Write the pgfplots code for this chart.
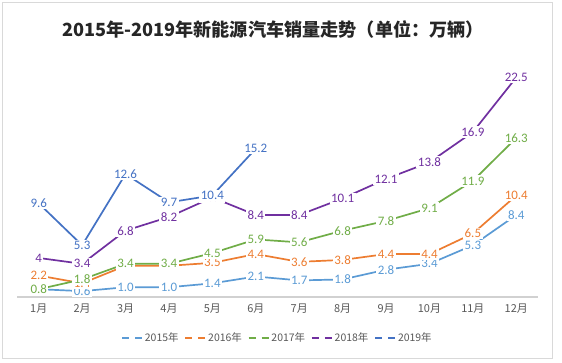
\documentclass[border=0pt]{standalone}
\usepackage{fontspec}
\setmainfont{Carlito}
\newfontfamily\cjk{Noto Sans CJK SC}
\usepackage{pgfplots}
\pgfplotsset{compat=1.18}
\definecolor{c15}{HTML}{5B9BD5}
\definecolor{c16}{HTML}{ED7D31}
\definecolor{c17}{HTML}{70AD47}
\definecolor{c18}{HTML}{7030A0}
\definecolor{c19}{HTML}{4472C4}
\definecolor{txt}{HTML}{595959}
\pgfplotstableread{
x y lab
1 0.8 0.8
2 0.6 0.6
3 1.0 1.0
4 1.0 1.0
5 1.4 1.4
6 2.1 2.1
7 1.7 1.7
8 1.8 1.8
9 2.8 2.8
10 3.4 3.4
11 5.3 5.3
12 8.4 8.4
}\dA
\pgfplotstableread{
x y lab
1 2.2 2.2
2 1.4 1.4
3 3.2 3.2
4 3.2 3.2
5 3.5 3.5
6 4.4 4.4
7 3.6 3.6
8 3.8 3.8
9 4.4 4.4
10 4.4 4.4
11 6.5 6.5
12 10.4 10.4
}\dB
\pgfplotstableread{
x y lab
1 0.8 0.8
2 1.8 1.8
3 3.4 3.4
4 3.4 3.4
5 4.5 4.5
6 5.9 5.9
7 5.6 5.6
8 6.8 6.8
9 7.8 7.8
10 9.1 9.1
11 11.9 11.9
12 16.3 16.3
}\dC
\pgfplotstableread{
x y lab
1 4 4
2 3.4 3.4
3 6.8 6.8
4 8.2 8.2
5 10.2 10.2
6 8.4 8.4
7 8.4 8.4
8 10.1 10.1
9 12.1 12.1
10 13.8 13.8
11 16.9 16.9
12 22.5 22.5
}\dD
\pgfplotstableread{
x y lab
1 9.6 9.6
2 5.3 5.3
3 12.6 12.6
4 9.7 9.7
5 10.4 10.4
6 15.2 15.2
}\dE
\begin{document}
\begin{tikzpicture}
\path[use as bounding box] (-17bp,-66bp) rectangle (545bp,297bp);
\draw[black!15, line width=0.8pt, fill=white] (-15bp,-61bp) rectangle (535bp,295bp);
\node[font=\cjk\bfseries\fontsize{18.2}{21}\selectfont, text=black!85] at (256bp,267bp) {2015年-2019年新能源汽车销量走势（单位：万辆）};
\begin{axis}[
  scale only axis, width=521bp, height=244bp,
  xmin=0.5, xmax=12.5, ymin=0, ymax=25,
  axis y line=none, axis x line*=bottom,
  x axis line style={draw=black!18, line width=1.4pt, -},
  xtick={1,...,12},
  xticklabels={1月,2月,3月,4月,5月,6月,7月,8月,9月,10月,11月,12月},
  major tick length=0pt,
  xticklabel style={font=\cjk\fontsize{11}{13}\selectfont, text=txt, yshift=-3bp},
  legend style={at={(0.50,-0.168)}, anchor=center, draw=none, fill=none,
    legend columns=5, font=\cjk\fontsize{10.5}{12}\selectfont, text=txt,
    /tikz/every even column/.append style={column sep=4pt}},
  legend image code/.code={\draw[#1] (0pt,0pt)--(7pt,0pt); \draw[#1] (13pt,0pt)--(20pt,0pt);},
  every axis plot/.append style={line width=1.7pt, mark=none},
]
\addplot[c15] table[x=x,y=y] {\dA};
\addlegendentry{2015年}
\addplot[c16] table[x=x,y=y] {\dB};
\addlegendentry{2016年}
\addplot[c17] table[x=x,y=y] {\dC};
\addlegendentry{2017年}
\addplot[c18] table[x=x,y=y] {\dD};
\addlegendentry{2018年}
\addplot[c19] table[x=x,y=y] {\dE};
\addlegendentry{2019年}
\pgfplotsset{labstyle/.style={draw=none, forget plot, nodes near coords, point meta=explicit symbolic,
   every node near coord/.append style={anchor=center, fill=white, inner sep=1.5pt, font=\fontsize{13}{15}\selectfont, text=#1}}}
\addplot[labstyle=c15] table[x=x,y=y,meta=lab] {\dA};
\addplot[labstyle=c16] table[x=x,y=y,meta=lab] {\dB};
\addplot[labstyle=c17] table[x=x,y=y,meta=lab] {\dC};
\addplot[labstyle=c18] table[x=x,y=y,meta=lab] {\dD};
\addplot[labstyle=c19] table[x=x,y=y,meta=lab] {\dE};
\end{axis}
\end{tikzpicture}
\end{document}
